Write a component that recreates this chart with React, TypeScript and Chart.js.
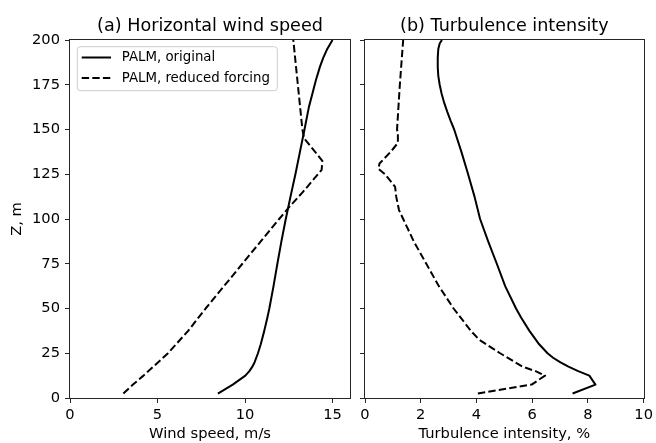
import React, { useEffect, useRef } from "react";
import { Chart, registerables } from "chart.js";

Chart.register(...registerables);

// ---- data ----
const zWindOriginal = [2.5, 7.5, 12.5, 15, 17.5, 20, 25, 30, 37.5, 45, 50, 62.5, 75, 87.5, 100, 112.5, 125, 137.5, 150, 162.5, 170, 177.5, 185, 190, 195, 200];
const windOriginal = [8.45, 9.3, 10.02, 10.25, 10.42, 10.55, 10.74, 10.9, 11.1, 11.28, 11.39, 11.63, 11.85, 12.08, 12.33, 12.6, 12.88, 13.14, 13.4, 13.65, 13.85, 14.05, 14.28, 14.47, 14.7, 15.0];

const zWindReduced = [2.5, 7.5, 12.5, 25, 37.5, 50, 62.5, 75, 87.5, 100, 107.5, 115, 122.5, 127.5, 132.5, 145, 150, 162.5, 175, 187.5, 200];
const windReduced = [3.05, 3.6, 4.2, 5.6, 6.75, 7.75, 8.8, 9.85, 10.9, 11.95, 12.6, 13.3, 13.95, 14.38, 14.42, 13.38, 13.28, 13.15, 13.02, 12.89, 12.76];

const zTiOriginal = [2.5, 7.5, 12.5, 15, 17.5, 20, 22.5, 25, 30, 37.5, 45, 50, 62.5, 75, 87.5, 100, 112.5, 125, 137.5, 150, 155, 160, 165, 170, 175, 180, 185, 190, 195, 198, 200];
const tiOriginal = [7.45, 8.27, 8.05, 7.65, 7.3, 7.0, 6.75, 6.55, 6.25, 5.9, 5.6, 5.42, 5.03, 4.73, 4.42, 4.13, 3.93, 3.7, 3.46, 3.2, 3.07, 2.95, 2.84, 2.75, 2.68, 2.63, 2.61, 2.61, 2.63, 2.68, 2.76];

const zTiReduced = [2.5, 7.5, 12.5, 15, 17.5, 25, 32.5, 37.5, 50, 62.5, 75, 87.5, 100, 105, 112.5, 118, 125, 128, 131, 137.5, 142.5, 147.5, 150, 175, 200];
const tiReduced = [4.05, 5.98, 6.46, 6.12, 5.65, 4.85, 4.1, 3.8, 3.18, 2.65, 2.2, 1.75, 1.37, 1.22, 1.12, 1.08, 0.72, 0.48, 0.52, 0.92, 1.18, 1.18, 1.15, 1.25, 1.37];

const heightTicks = [0, 25, 50, 75, 100, 125, 150, 175, 200];
const windTicks = [0, 5, 10, 15];
const tiTicks = [0, 2, 4, 6, 8, 10];

const seriesLabels = ["PALM, original", "PALM, reduced forcing"];
const panelTitles = ["(a) Horizontal wind speed", "(b) Turbulence intensity"];
const windAxisTitle = "Wind speed, m/s";
const tiAxisTitle = "Turbulence intensity, %";
const heightAxisTitle = "Z, m";

// ---- styling ----
const FONT = "'DejaVu Sans', 'Liberation Sans', sans-serif";
const TICK_SIZE = 14.67;
const LEGEND_SIZE = 13.33;
const TITLE_SIZE = 17.6;
const DASH = [7.4, 3.2];
const AXIS_COLOR = "#262626";

const pairs = (xs: number[], zs: number[]) => xs.map((x, i) => ({ x, y: zs[i] }));

const framePlugin = {
  id: "frame",
  afterDraw(chart: any, _a: any, opts: any) {
    const { ctx, chartArea } = chart;
    const { left, top, right, bottom } = chartArea;
    ctx.save();
    ctx.strokeStyle = AXIS_COLOR;
    ctx.lineWidth = 1;
    ctx.strokeRect(Math.round(left) - 0.5, Math.round(top) - 0.5, Math.round(right - left) + 1, Math.round(bottom - top) + 1);
    // panel title
    ctx.fillStyle = "#000";
    ctx.font = `${TITLE_SIZE}px ${FONT}`;
    ctx.textAlign = "center";
    ctx.textBaseline = "alphabetic";
    ctx.fillText(opts.text, (left + right) / 2, top - 9.5);
    // legend
    if (opts.legend) {
      const bx = left + 7.3;
      const by = top + 6.7;
      const bw = 200;
      const bh = 44;
      ctx.beginPath();
      ctx.roundRect(bx, by, bw, bh, 3);
      ctx.fillStyle = "rgba(255,255,255,0.8)";
      ctx.fill();
      ctx.strokeStyle = "#cccccc";
      ctx.lineWidth = 1;
      ctx.stroke();
      const rows = [by + 10.8, by + 31.2];
      ctx.strokeStyle = "#000";
      ctx.lineWidth = 2;
      ctx.lineCap = "butt";
      opts.legend.forEach((label: string, i: number) => {
        ctx.setLineDash(i === 1 ? DASH : []);
        ctx.beginPath();
        ctx.moveTo(bx + 4.4, rows[i]);
        ctx.lineTo(bx + 33.7, rows[i]);
        ctx.stroke();
        ctx.setLineDash([]);
        ctx.fillStyle = "#000";
        ctx.font = `${LEGEND_SIZE}px ${FONT}`;
        ctx.textAlign = "left";
        ctx.textBaseline = "middle";
        ctx.fillText(label, bx + 44.4, rows[i] + 0.5);
      });
    }
    ctx.restore();
  },
};

function makeConfig(p: {
  original: { x: number; y: number }[];
  reduced: { x: number; y: number }[];
  xMax: number;
  xTicks: number[];
  xTitle: string;
  title: string;
  yLabels: boolean;
  yWidth: number;
  padRight: number;
  legend?: string[];
}): any {
  const tickFont = { family: FONT, size: TICK_SIZE };
  const grid = {
    display: true,
    drawOnChartArea: false,
    drawTicks: true,
    tickLength: 5,
    color: AXIS_COLOR,
    lineWidth: 1,
  };
  const lineStyle = {
    showLine: true,
    borderColor: "#000",
    backgroundColor: "#000",
    borderWidth: 2,
    pointRadius: 0,
    tension: 0,
    borderJoinStyle: "round",
    borderCapStyle: "butt",
    fill: false,
  };
  return {
    type: "scatter",
    data: {
      datasets: [
        { label: seriesLabels[0], data: p.original, ...lineStyle },
        { label: seriesLabels[1], data: p.reduced, ...lineStyle, borderDash: DASH },
      ],
    },
    options: {
      responsive: false,
      animation: false,
      events: [],
      layout: { padding: { top: 40, right: p.padRight, left: 0, bottom: 0 } },
      plugins: {
        legend: { display: false },
        tooltip: { enabled: false },
        title: { display: false },
        frame: { text: p.title, legend: p.legend },
      },
      scales: {
        x: {
          type: "linear",
          min: 0,
          max: p.xMax,
          afterBuildTicks: (s: any) => {
            s.ticks = p.xTicks.map((v) => ({ value: v }));
          },
          afterFit: (s: any) => {
            s.height = 45;
          },
          grid,
          border: { display: false },
          ticks: { color: "#000", font: tickFont, padding: 3, maxRotation: 0, autoSkip: false },
          title: {
            display: true,
            text: p.xTitle,
            color: "#000",
            font: tickFont,
            padding: { top: 0, bottom: 0 },
          },
        },
        y: {
          type: "linear",
          min: 0,
          max: 200,
          afterBuildTicks: (s: any) => {
            s.ticks = heightTicks.map((v) => ({ value: v }));
          },
          afterFit: (s: any) => {
            s.width = p.yWidth;
          },
          grid,
          border: { display: false },
          ticks: { display: p.yLabels, color: "#000", font: tickFont, padding: 5, autoSkip: false },
          title: {
            display: p.yLabels,
            text: heightAxisTitle,
            color: "#000",
            font: tickFont,
            padding: { top: 8.5, bottom: 0 },
          },
        },
      },
    },
    plugins: [framePlugin],
  };
}

export default function App() {
  const leftRef = useRef<HTMLCanvasElement>(null);
  const rightRef = useRef<HTMLCanvasElement>(null);

  useEffect(() => {
    const left = new Chart(
      leftRef.current as HTMLCanvasElement,
      makeConfig({
        original: pairs(windOriginal, zWindOriginal),
        reduced: pairs(windReduced, zWindReduced),
        xMax: 16,
        xTicks: windTicks,
        xTitle: windAxisTitle,
        title: panelTitles[0],
        yLabels: true,
        yWidth: 70,
        padRight: 6,
        legend: seriesLabels,
      })
    );
    const right = new Chart(
      rightRef.current as HTMLCanvasElement,
      makeConfig({
        original: pairs(tiOriginal, zTiOriginal),
        reduced: pairs(tiReduced, zTiReduced),
        xMax: 10,
        xTicks: tiTicks,
        xTitle: tiAxisTitle,
        title: panelTitles[1],
        yLabels: false,
        yWidth: 9,
        padRight: 11,
      })
    );
    return () => {
      left.destroy();
      right.destroy();
    };
  }, []);

  return (
    <div style={{ position: "absolute", left: 0, top: 0, width: 656, height: 443, background: "#fff" }}>
      <canvas ref={leftRef} width={356} height={443} style={{ position: "absolute", left: 0, top: 0, width: 356, height: 443 }} />
      <canvas ref={rightRef} width={300} height={443} style={{ position: "absolute", left: 356, top: 0, width: 300, height: 443 }} />
    </div>
  );
}
